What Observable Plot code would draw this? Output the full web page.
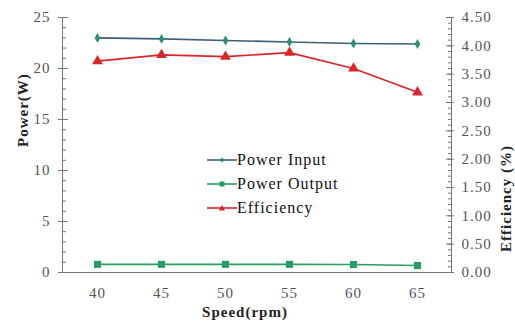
<!DOCTYPE html>
<html><head><meta charset="utf-8">
<script src="https://cdn.jsdelivr.net/npm/d3@7"></script>
<script src="https://cdn.jsdelivr.net/npm/@observablehq/plot@0.6"></script>
<style>
body{margin:0;background:#fff;}
#wrap{position:relative;width:515px;height:322px;font-family:"Liberation Serif","DejaVu Serif",serif;}
#legend{position:absolute;left:207px;top:148px;font-size:16px;color:#111;letter-spacing:1px;}
#legend div{display:flex;align-items:center;height:24px;}
</style>
</head><body><div id="wrap"><div id="chart"></div><div id="legend"></div></div>
<script>
const speeds = [40, 45, 50, 55, 60, 65];
const powerInput = [23.0, 22.9, 22.75, 22.6, 22.45, 22.4];
const powerOutput = [0.8, 0.8, 0.8, 0.8, 0.78, 0.68];
const efficiency = [3.73, 3.84, 3.81, 3.88, 3.60, 3.18];
const leftTicks = [0, 5, 10, 15, 20, 25];
const rightTicks = [0, 0.5, 1, 1.5, 2, 2.5, 3, 3.5, 4, 4.5];
const seriesNames = ["Power Input", "Power Output", "Efficiency"];
const colors = {in: "#2a8f73", inLine: "#3f5f78", out: "#2a9d64", eff: "#d8242a"};

const k = 25 / 4.5;
const rows = speeds.map((s, i) => ({s, pin: powerInput[i], pout: powerOutput[i], eff: efficiency[i] * k}));
const leftMinor = d3.range(0, 25.01, 1);
const rightMinor = d3.range(0, 4.501, 0.1).map(v => v * k);

const tickCol = "#777", labCol = "#555";
const chart = Plot.plot({
  width: 515, height: 322,
  marginLeft: 62, marginRight: 64, marginTop: 17, marginBottom: 50,
  style: {fontFamily: "'Liberation Serif', serif", fontSize: "15px", background: "#fff", letterSpacing: "1px"},
  x: {type: "point", domain: speeds, padding: 0.5},
  y: {domain: [0, 25]},
  marks: [
    Plot.frame({anchor: "left", stroke: tickCol}),
    Plot.frame({anchor: "right", stroke: tickCol}),
    Plot.frame({anchor: "bottom", stroke: tickCol}),
    Plot.axisX({tickSize: 0, tickPadding: 15, fill: labCol, label: null, fontSize: 15}),
    Plot.axisY(leftTicks, {anchor: "left", tickSize: 4, tickPadding: 8, stroke: tickCol, fill: labCol, label: null, fontSize: 15}),
    Plot.axisY(leftTicks, {anchor: "left", tickSize: -6, text: null, stroke: tickCol, label: null}),
    Plot.axisY(leftMinor, {anchor: "left", tickSize: -4, text: null, stroke: tickCol, label: null}),
    Plot.axisY(rightTicks.map(v => v * k), {anchor: "right", tickSize: 2, tickPadding: 8, stroke: tickCol, fill: labCol, label: null, fontSize: 15, tickFormat: d => (d / k).toFixed(2)}),
    Plot.axisY(rightTicks.map(v => v * k), {anchor: "right", tickSize: -6, text: null, stroke: tickCol, label: null}),
    Plot.axisY(rightMinor, {anchor: "right", tickSize: -4, text: null, stroke: tickCol, label: null}),
    Plot.line(rows, {x: "s", y: "pin", stroke: colors.inLine, strokeWidth: 1.6}),
    Plot.dot(rows, {x: "s", y: "pin", symbol: "diamond", r: 3, fill: colors.in}),
    Plot.line(rows, {x: "s", y: "pout", stroke: colors.out, strokeWidth: 1.6}),
    Plot.dot(rows, {x: "s", y: "pout", symbol: "square", r: 4, fill: colors.out}),
    Plot.line(rows, {x: "s", y: "eff", stroke: colors.eff, strokeWidth: 1.6}),
    Plot.dot(rows, {x: "s", y: "eff", symbol: "triangle", r: 4, fill: colors.eff}),
    Plot.text(["Speed(rpm)"], {frameAnchor: "bottom", dx: -12, dy: 44, fontWeight: "bold", fontSize: 15, fill: "#222", letterSpacing: "2px"}),
    Plot.text(["Power(W)"], {frameAnchor: "left", dx: -39, dy: 2, rotate: -90, fontWeight: "bold", fontSize: 15, fill: "#222"}),
    Plot.text(["Efficiency (%)"], {frameAnchor: "right", dx: 55, rotate: -90, fontWeight: "bold", fontSize: 15, fill: "#222"})
  ]
});
document.getElementById("chart").appendChild(chart);

const lg = document.getElementById("legend");
const sw = [
  {c: colors.inLine, m: colors.in, shape: "diamond"},
  {c: colors.out, m: colors.out, shape: "square"},
  {c: colors.eff, m: colors.eff, shape: "triangle"}
];
seriesNames.forEach((name, i) => {
  const s = sw[i];
  let marker = "";
  if (s.shape === "diamond") marker = `<path d="M15,3.5 L17.5,6 L15,8.5 L12.5,6Z" fill="${s.m}"/>`;
  else if (s.shape === "square") marker = `<rect x="12.5" y="3.5" width="5" height="5" fill="${s.m}"/>`;
  else marker = `<path d="M15,3 L18,8.5 L12,8.5Z" fill="${s.m}"/>`;
  lg.insertAdjacentHTML("beforeend", `<div><svg width="30" height="12"><line x1="0" x2="30" y1="6" y2="6" stroke="${s.c}" stroke-width="1.6"/>${marker}</svg><span>${name}</span></div>`);
});
</script>
</body></html>
